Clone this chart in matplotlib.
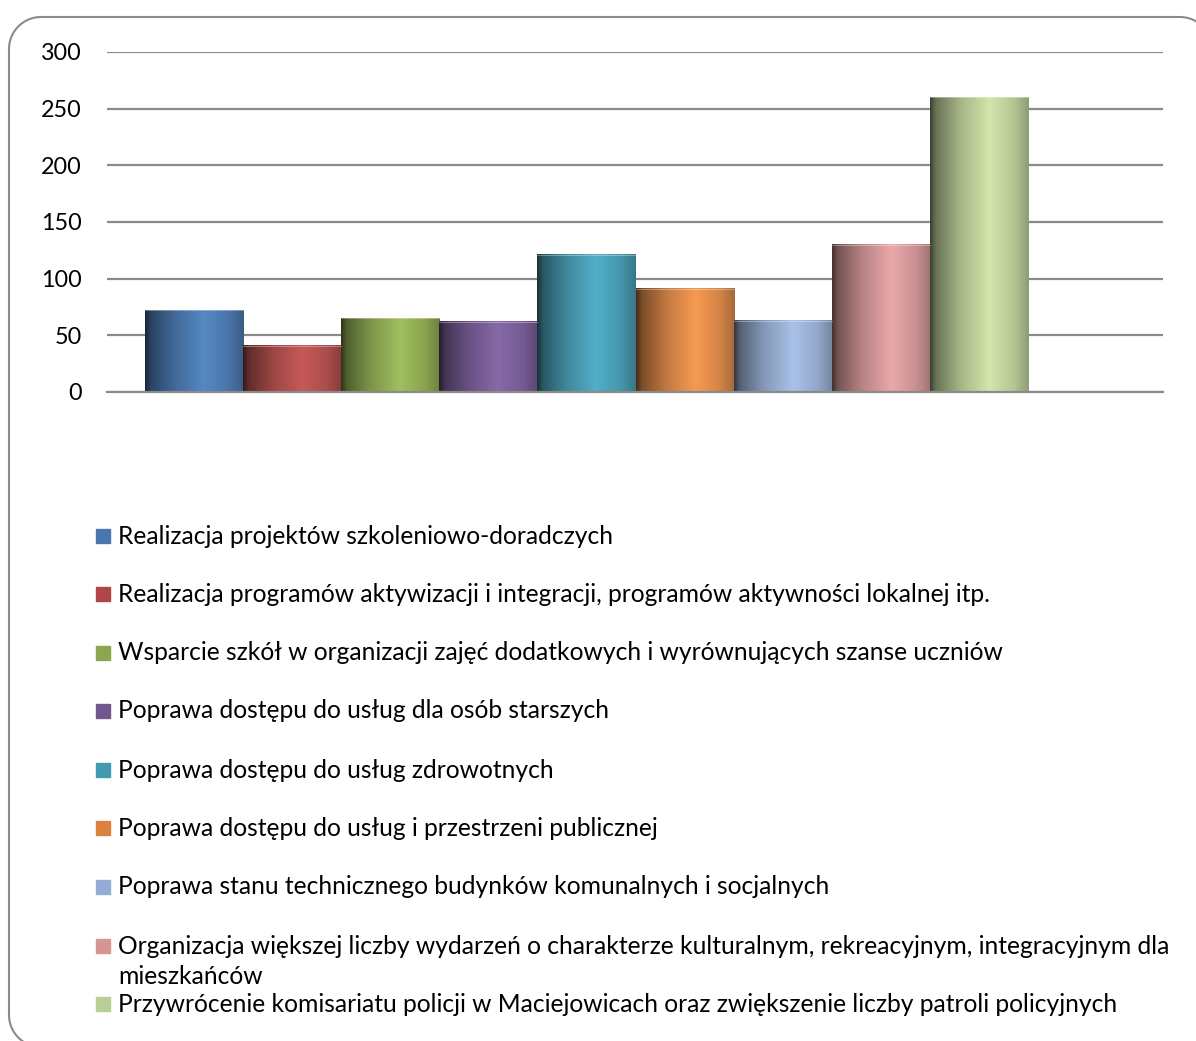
import numpy as np
import matplotlib.pyplot as plt
from matplotlib.patches import PathPatch, Rectangle
from matplotlib.path import Path

plt.rcParams['font.family'] = ['Lato', 'DejaVu Sans']

labels = [
    "Realizacja projektów szkoleniowo-doradczych",
    "Realizacja programów aktywizacji i integracji, programów aktywności lokalnej itp.",
    "Wsparcie szkół w organizacji zajęć dodatkowych i wyrównujących szanse uczniów",
    "Poprawa dostępu do usług dla osób starszych",
    "Poprawa dostępu do usług zdrowotnych",
    "Poprawa dostępu do usług i przestrzeni publicznej",
    "Poprawa stanu technicznego budynków komunalnych i socjalnych",
    "Organizacja większej liczby wydarzeń o charakterze kulturalnym, rekreacyjnym, integracyjnym dla\nmieszkańców",
    "Przywrócenie komisariatu policji w Maciejowicach oraz zwiększenie liczby patroli policyjnych",
]
values = [72, 41, 65, 62, 121, 91, 63, 130, 260]
yticks = [0, 50, 100, 150, 200, 250, 300]

# lightest tone of each bar and the flat legend colour
bar_colors = ['#5588c4', '#c65a57', '#a0bf5e', '#8769a8', '#52afc8',
              '#f69a52', '#aac2ea', '#eaa8aa', '#d3e6ab']
legend_colors = ['#4a76ae', '#ae4745', '#8ba550', '#72578f', '#4399ad',
                 '#db8240', '#94abd3', '#d49593', '#b8cf96']

W, H = 1196, 1041
FS = 17.7
fig = plt.figure(figsize=(W / 100, H / 100), dpi=100)
ax = fig.add_axes([107 / W, 1 - 392 / H, (1163 - 107) / W, (392 - 52) / H])

x = np.arange(len(values))
bars = ax.bar(x, values, width=1.0, color='none', edgecolor='none', zorder=3)

# shading across each bar: dark left edge, light band, slightly dark right
t = np.linspace(0, 1, 200)
shade = np.interp(t, [0, 0.06, 0.3, 0.6, 0.85, 1.0], [0.28, 0.5, 0.78, 1.0, 0.86, 0.68])
for b, c in zip(bars, bar_colors):
    rgb = np.array(plt.matplotlib.colors.to_rgb(c))
    img = np.clip(shade[:, None] * rgb[None, :], 0, 1)[None, :, :]
    x0, w, h = b.get_x(), b.get_width(), b.get_height()
    ax.imshow(img, extent=(x0, x0 + w, 0, h), aspect='auto', zorder=3,
              interpolation='bilinear')
    ax.plot([x0, x0 + w], [h, h], color='white', lw=0.6, alpha=0.4, zorder=4)

ax.set_xlim(-0.887, 9.876)
ax.set_ylim(0, 300)
ax.set_yticks(yticks)
ax.set_yticklabels([str(v) for v in yticks], fontsize=16.8, color='#000000')
ax.tick_params(axis='y', length=0, pad=18)
ax.set_xticks([])
ax.grid(axis='y', color='#8a8a8a', linewidth=1.6, zorder=1)
ax.set_axisbelow(True)
for s in ['top', 'right', 'left']:
    ax.spines[s].set_visible(False)
ax.spines['bottom'].set_color('#8a8a8a')
ax.spines['bottom'].set_linewidth(1.6)
ax.spines['bottom'].set_zorder(5)

# legend drawn by hand, in figure pixel coordinates
row_y = [536, 594, 653, 711, 770, 828, 887, 946, 1004]
for lab, col, yy in zip(labels, legend_colors, row_y):
    fig.patches.append(Rectangle((96 / W, 1 - (yy + 7) / H), 14 / W, 14 / H,
                                 transform=fig.transFigure, color=col))
    for k, line in enumerate(lab.split('\n')):
        fig.text(118 / W, 1 - (yy + 31 * k) / H, line, fontsize=FS,
                 va='center', ha='left')

# rounded outer frame in pixel coords (top-down), runs past right/bottom edge
def corner(cx, cy, r, a0, a1):
    a = np.radians(np.linspace(a0, a1, 20))
    return np.column_stack([cx + r * np.cos(a), cy + r * np.sin(a)])

L, T, R, B, r = 9, 17, 1212, 1047, 32
pts = np.vstack([
    corner(L + r, T + r, r, 180, 270),
    corner(R - r, T + r, r, 270, 360),
    corner(R - r, B - r, r, 0, 90),
    corner(L + r, B - r, r, 90, 180),
    [[L, T + r]],
])
pts[:, 1] = H - pts[:, 1]
fig.patches.append(PathPatch(Path(pts / 100), transform=fig.dpi_scale_trans,
                             facecolor='none', edgecolor='#8a8a8a', linewidth=1.5))

fig.savefig('out.png', dpi=100)
